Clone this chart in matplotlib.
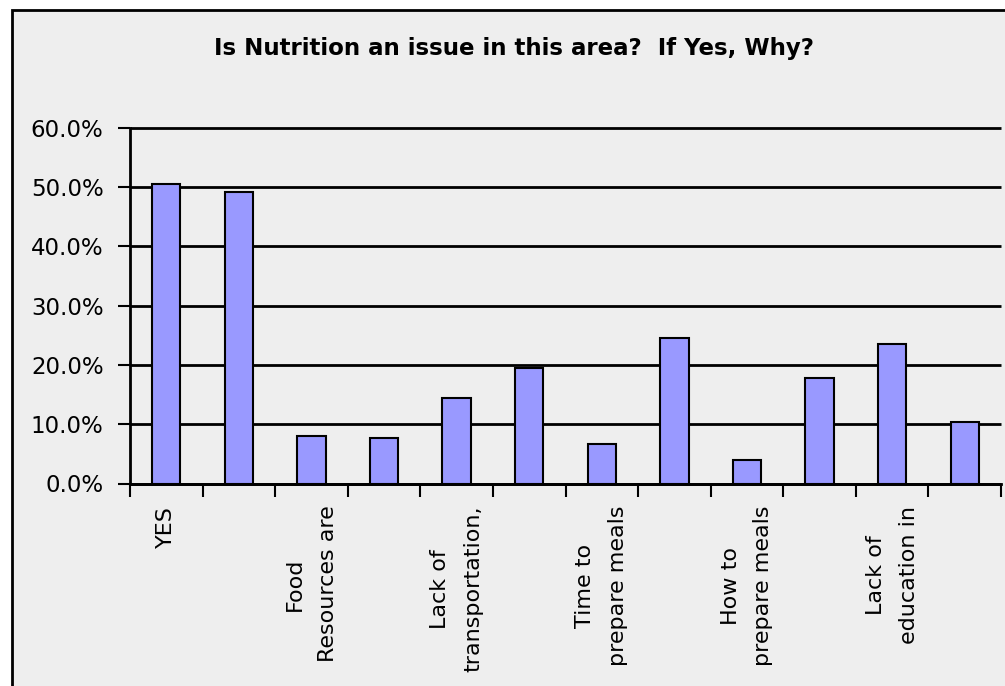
import numpy as np
import matplotlib.pyplot as plt
from matplotlib.patches import Rectangle
from matplotlib.ticker import FuncFormatter

labels = ['YES', '', 'Food\nResources are', '', 'Lack of\ntransportation,', '',
          'Time to\nprepare meals', '', 'How to\nprepare meals', '',
          'Lack of\neducation in', '']
values = [50.5, 49.2, 8.0, 7.7, 14.4, 19.5, 6.7, 24.6, 4.0, 17.8, 23.5, 10.4]

W, H = 1005, 686
fig = plt.figure(figsize=(W / 100, H / 100), dpi=100)
fig.patch.set_facecolor('white')

# chart area with black frame (cut off at right and bottom)
fig.patches.append(Rectangle((12 / W, -0.1), 1.2, (H - 10) / H + 0.1,
                             transform=fig.transFigure, facecolor='#eeeeee',
                             edgecolor='black', lw=2, zorder=-5))

ax = fig.add_axes([130 / W, (H - 483.5) / H, 871 / W, (483.5 - 127.7) / H])
ax.set_facecolor('#eeeeee')

x = np.arange(len(values))
ax.bar(x, values, width=0.39, color='#9999ff', edgecolor='black', lw=1.5, zorder=3)

ax.set_xlim(-0.5, len(values) - 0.5)
ax.set_ylim(0, 60)
ax.set_yticks(np.arange(0, 61, 10))
ax.yaxis.set_major_formatter(FuncFormatter(lambda v, p: f'{v:.1f}%'))
ax.grid(axis='y', color='black', lw=2, zorder=1)
ax.set_axisbelow(True)
for gl in ax.get_ygridlines():
    gl.set_clip_on(False)
    gl.set_solid_capstyle('butt')

ax.set_xticks(x)
ax.set_xticklabels(labels, rotation=90, fontsize=16, va='top', ha='center',
                   multialignment='center', linespacing=1.8)
ax.set_xticks(np.arange(-0.5, len(values), 1), minor=True)
ax.tick_params(axis='x', which='major', length=0, pad=16)
ax.tick_params(axis='x', which='minor', length=9, width=1.5, direction='out')
ax.tick_params(axis='y', labelsize=16.5, length=9, width=1.5, pad=10)

for s in ['top', 'right']:
    ax.spines[s].set_visible(False)
for s in ['left', 'bottom']:
    ax.spines[s].set_linewidth(2)

fig.text(514 / W, 1 - 49 / H, 'Is Nutrition an issue in this area?  If Yes, Why?',
         ha='center', va='center', fontsize=16.5, fontweight='bold')

fig.savefig('out.png', dpi=100)
